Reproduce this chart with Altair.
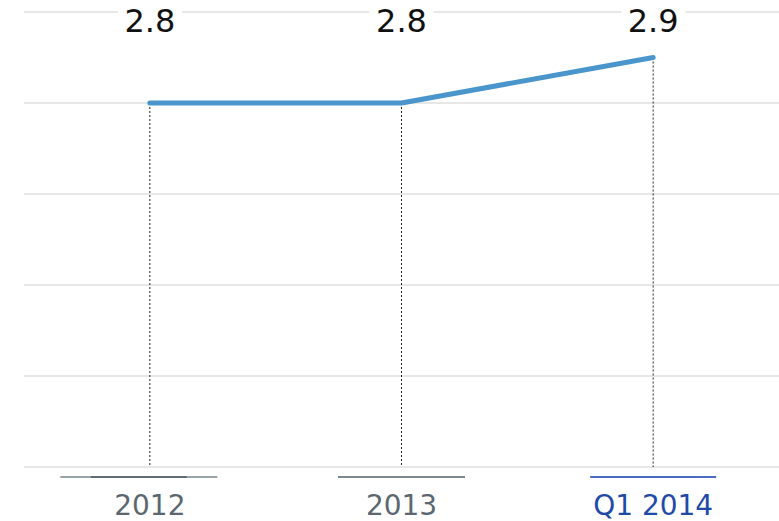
import altair as alt
import pandas as pd

categories = ["2012", "2013", "Q1 2014"]
values = [2.8, 2.8, 2.9]
value_labels = ["2.8", "2.8", "2.9"]
label_colors = ["#5b6770", "#5b6770", "#1f4aa8"]
underline_colors = ["#9aa3a8", "#7d878e", "#4a6cc4"]
underline_widths = [157, 127, 126]
grid_values = [2.0, 2.2, 2.4, 2.6, 2.8, 3.0]

df = pd.DataFrame({
    "cat": categories,
    "value": values,
    "label": value_labels,
    "color": label_colors,
    "ucolor": underline_colors,
    "uwidth": underline_widths,
    "base": [2.0] * 3,
    "top": [3.0] * 3,
})

x = alt.X("cat:N", sort=categories, scale=alt.Scale(type="point", padding=0.5), axis=None)
ys = alt.Scale(domain=[2.0, 3.0], nice=False, zero=False)

grid = alt.Chart(pd.DataFrame({"g": grid_values})).mark_rule(
    color="#cfcfcf", strokeWidth=1
).encode(y=alt.Y("g:Q", scale=ys, axis=None))

base = alt.Chart(df)

drops = base.mark_rule(color="#222222", strokeWidth=1, strokeDash=[2, 2]).encode(
    x=x, y=alt.Y("value:Q", scale=ys, axis=None), y2="base:Q"
)

line = base.mark_line(color="#4a96cc", strokeWidth=5, strokeCap="round", strokeJoin="round").encode(
    x=x, y=alt.Y("value:Q", scale=ys, axis=None)
)

label_bg = base.mark_tick(color="white", opacity=1, size=64, thickness=6).encode(
    x=x, y=alt.Y("top:Q", scale=ys, axis=None)
)

labels = base.mark_text(
    font="DejaVu Sans", fontSize=32, color="#111111", baseline="alphabetic", dy=20
).encode(x=x, y=alt.Y("top:Q", scale=ys, axis=None), text="label:N")

underlines_main = base.transform_filter(alt.datum.cat != "2012").mark_tick(
    thickness=2, yOffset=10, opacity=1
).encode(
    x=x,
    y=alt.Y("base:Q", scale=ys, axis=None),
    size=alt.Size("uwidth:Q", scale=None, legend=None),
    color=alt.Color("ucolor:N", scale=None, legend=None),
)

underline_first = base.transform_filter(alt.datum.cat == "2012").mark_tick(
    thickness=2, yOffset=10, xOffset=-11, opacity=1
).encode(
    x=x,
    y=alt.Y("base:Q", scale=ys, axis=None),
    size=alt.Size("uwidth:Q", scale=None, legend=None),
    color=alt.Color("ucolor:N", scale=None, legend=None),
)

underline_first_dark = base.transform_filter(alt.datum.cat == "2012").mark_tick(
    thickness=2, yOffset=10, xOffset=-11, opacity=1, size=96, color="#5f6c72"
).encode(
    x=x,
    y=alt.Y("base:Q", scale=ys, axis=None),
)

cat_labels = base.mark_text(
    font="DejaVu Sans", fontSize=28, baseline="alphabetic", dy=48
).encode(
    x=x,
    y=alt.Y("base:Q", scale=ys, axis=None),
    text="cat:N",
    color=alt.Color("color:N", scale=None, legend=None),
)

chart = alt.layer(
    grid, drops, line, label_bg, labels,
    underlines_main, underline_first, underline_first_dark, cat_labels
).properties(
    width=755,
    height=455,
    autosize=alt.AutoSizeParams(type="none"),
    padding={"left": 24, "top": 12, "right": 0, "bottom": 54},
    background="white",
).configure_view(stroke=None)

chart.save("out.html", embed_options={"renderer": "svg", "actions": False})
